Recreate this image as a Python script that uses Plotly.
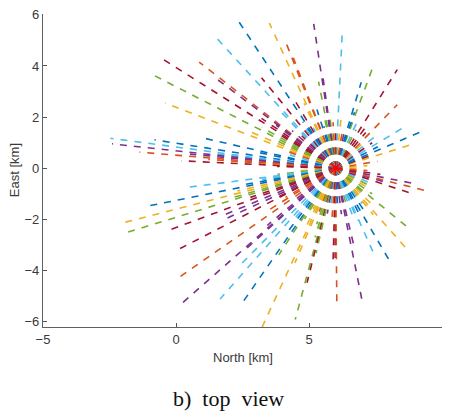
import numpy as np
import plotly.graph_objects as go

# Beam origin (North, East) in km
origin_north = 6.0
origin_east = 0.0

# Each beam: azimuth (deg, counter-clockwise from +North toward +East), range (km), colour code
beam_angle_deg = [
    0, 5, 10, 18, 21, 24, 28, 32, 36, 40, 44, 47, 51, 55, 59,
    63, 66, 70.5, 72, 74, 77, 80, 84, 87.3, 90, 93, 96, 97.6, 98.3, 100.7, 102,
    105, 107, 110.2, 110.8, 113.7, 115, 118, 120, 122.4, 124, 126, 128.2, 131.3, 133, 135,
    138, 141, 142, 143, 145, 146.7, 148, 150, 152, 154, 156, 158.3, 160,
    163, 166.6, 168, 170.7, 172.1, 172.8, 173.5, 174.2, 175.1, 175.8, 176.5, 177.1, 178,
    -176, -174, -172.4, -171, -169.5, -168.2, -166.5, -165.1, -163.5, -162.3, -160.5,
    -158.9, -156.5, -154.5, -152.5, -151.8, -149, -147, -144.1, -141, -139, -137.6, -136.9,
    -133.5, -130.4, -128, -126, -123.7, -122.3, -120.5, -118, -116, -114, -112.5, -110,
    -108, -106, -104.4, -103.5, -102.5, -100, -97, -94, -91.5, -90.3, -89.5, -87,
    -83, -79.1, -77.2, -74, -71, -68, -66.7, -63.5, -60.7,
    -57, -54, -52, -49.7, -46, -43, -40.4, -36, -32, -28, -24, -19, -16, -14.4, -11.4, -8, -4,
]
beam_range_km = [
    0.9, 1.2, 1.6, 3.1, 1.5, 3.6, 1.8, 3.0, 1.7, 1.9, 1.6, 3.4, 1.8, 2.0, 4.5,
    1.7, 2.0, 4.1, 2.3, 3.5, 1.6, 1.5, 1.9, 5.2, 1.6, 1.8, 2.2, 3.55, 5.7, 3.45, 2.1,
    1.7, 2.4, 4.6, 5.2, 6.2, 2.8, 1.8, 3.0, 6.9, 2.2, 1.9, 4.5, 6.85, 3.2, 1.8,
    2.2, 6.6, 5.7, 2.8, 3.4, 7.95, 2.4, 3.2, 7.9, 2.4, 3.6, 6.9, 2.0,
    1.8, 5.2, 3.0, 6.9, 8.55, 4.6, 8.46, 5.5, 7.4, 4.8, 2.8, 5.8, 2.2,
    1.5, 2.2, 5.7, 2.8, 3.6, 7.3, 3.8, 8.4, 4.2, 8.4, 3.4,
    6.8, 4.5, 4.5, 2.6, 6.7, 2.2, 3.0, 7.45, 2.0, 3.4, 7.9, 4.6,
    5.3, 6.7, 2.6, 3.0, 6.35, 4.0, 2.3, 1.8, 2.6, 6.9, 4.0, 1.8,
    2.3, 2.8, 6.1, 4.6, 3.4, 1.8, 1.6, 1.9, 3.55, 3.5, 5.23, 1.6,
    1.8, 5.23, 3.07, 1.6, 1.9, 2.2, 3.6, 2.0, 4.06,
    2.0, 1.7, 2.3, 4.2, 1.9, 1.6, 3.52, 1.7, 1.5, 1.5, 1.4, 3.09, 1.9, 3.65, 2.99, 1.7, 1.2,
]
beam_color = [
    "y", "y", "o", "y", "r", "b", "b", "c", "r", "c", "y", "o", "r", "r", "r",
    "g", "c", "g", "b", "b", "p", "o", "y", "c", "r", "o", "g", "p", "p", "g", "g",
    "b", "b", "o", "o", "y", "y", "c", "r", "b", "b", "c", "r", "c", "c", "r",
    "p", "o", "p", "p", "r", "r", "r", "g", "g", "g", "y", "y", "o",
    "c", "b", "b", "b", "c", "c", "p", "p", "o", "o", "y", "r", "r",
    "y", "g", "c", "c", "b", "b", "y", "y", "g", "g", "r",
    "r", "p", "p", "r", "r", "o", "o", "o", "p", "p", "p", "p",
    "c", "c", "c", "b", "b", "g", "g", "y", "y", "y", "y", "o",
    "g", "g", "g", "r", "g", "p", "c", "o", "r", "r", "o", "b",
    "p", "p", "p", "g", "c", "c", "c", "b", "b",
    "b", "c", "y", "y", "y", "g", "g", "g", "y", "g", "c", "r", "p", "o", "p", "r", "o",
]

x_ticks = [-5, 0, 5, 10]
y_ticks = [-6, -4, -2, 0, 2, 4, 6]

palette = {
    "b": "#0072BD", "o": "#D95319", "y": "#EDB120", "p": "#7E2F8E",
    "g": "#77AC30", "c": "#4DBEEE", "r": "#A2142F",
}

fig = go.Figure()
for ang, rng, col in zip(beam_angle_deg, beam_range_km, beam_color):
    a = np.deg2rad(ang)
    fig.add_trace(go.Scatter(
        x=[origin_north, origin_north + rng * np.cos(a)],
        y=[origin_east, origin_east + rng * np.sin(a)],
        mode="lines",
        line=dict(color=palette[col], width=1.6, dash="7px,7px"),
        hoverinfo="skip", showlegend=False,
    ))

fig.add_trace(go.Scatter(
    x=[origin_north], y=[origin_east], mode="markers",
    marker=dict(symbol="asterisk-open", size=11, color="#FF0000",
                line=dict(color="#FF0000", width=1.5)),
    showlegend=False, hoverinfo="skip",
))

axis_font = dict(family="Liberation Sans, Arial, sans-serif", size=13, color="#3a3a3a")
fig.update_layout(
    width=449, height=411,
    margin=dict(l=43, r=7, t=14, b=84),
    paper_bgcolor="white", plot_bgcolor="white",
    font=axis_font,
    xaxis=dict(range=[-5, 10], tickvals=x_ticks, ticks="inside", ticklen=4,
               tickcolor="#555555", showline=True, linecolor="#606060", linewidth=1.3,
               showgrid=False, zeroline=False, tickfont=axis_font, automargin=False),
    yaxis=dict(range=[-6.2, 6.03], tickvals=y_ticks, ticks="inside", ticklen=4,
               tickcolor="#555555", showline=True, linecolor="#606060", linewidth=1.3,
               showgrid=False, zeroline=False, tickfont=axis_font, automargin=False),
    annotations=[
        dict(text="North [km]", xref="paper", yref="paper", x=0.5, y=-0.099,
             showarrow=False, xanchor="center", yanchor="middle", font=axis_font),
        dict(text="East [km]", xref="paper", yref="paper", x=-0.071, y=0.5,
             showarrow=False, xanchor="center", yanchor="middle", textangle=-90,
             font=axis_font),
        dict(text="b)&nbsp; top&nbsp; view", xref="paper", yref="paper", x=0.464, y=-0.228,
             showarrow=False, xanchor="center", yanchor="middle",
             font=dict(family="Liberation Serif, Times New Roman, serif", size=22,
                       color="#111111")),
    ],
)

fig.write_html("out.html", config={"displayModeBar": False},
               post_script="document.body.style.margin='0';document.body.style.overflow='hidden';")
